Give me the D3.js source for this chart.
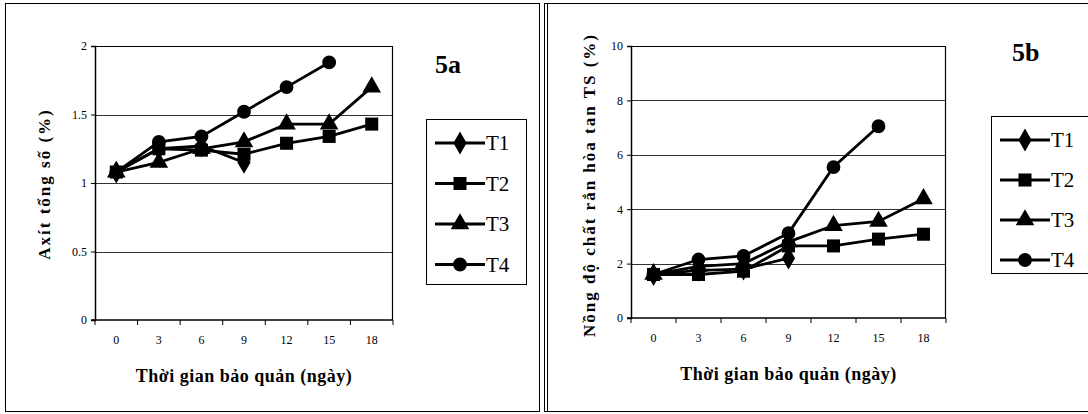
<!DOCTYPE html>
<html>
<head>
<meta charset="utf-8">
<script src="https://cdn.jsdelivr.net/npm/d3@7"></script>
<style>
  body { margin: 0; background: #fff; }
  svg text { font-family: "Liberation Serif", "DejaVu Serif", serif; }
</style>
</head>
<body>
<div id="chart"></div>
<script>
const days = ['0', '3', '6', '9', '12', '15', '18'];
const series = ['T1', 'T2', 'T3', 'T4'];

// 5a - total acid (%)
const acidT1 = [1.08, 1.25, 1.27, 1.15];
const acidT2 = [1.08, 1.25, 1.24, 1.21, 1.29, 1.34, 1.43];
const acidT3 = [1.08, 1.15, 1.25, 1.30, 1.43, 1.43, 1.70];
const acidT4 = [1.08, 1.30, 1.34, 1.52, 1.70, 1.88];
const acidTicks = [0, 0.5, 1, 1.5, 2];

// 5b - total soluble solids (%)
const tssT1 = [1.6, 1.75, 1.8, 2.2];
const tssT2 = [1.6, 1.6, 1.72, 2.65, 2.65, 2.9, 3.08];
const tssT3 = [1.6, 1.9, 2.0, 2.8, 3.4, 3.55, 4.38];
const tssT4 = [1.6, 2.15, 2.28, 3.12, 5.55, 7.05];
const tssTicks = [0, 2, 4, 6, 8, 10];

const FONT = '"Liberation Serif", "DejaVu Serif", serif';

const svg = d3.select('#chart').append('svg')
  .attr('width', 1088)
  .attr('height', 414)
  .attr('font-family', FONT);

// outer frames
svg.append('rect').attr('x', 5.5).attr('y', 3.5).attr('width', 534).attr('height', 408)
  .attr('fill', 'none').attr('stroke', '#000').attr('stroke-width', 1);
svg.append('rect').attr('x', 544.5).attr('y', 3.5).attr('width', 560).attr('height', 408)
  .attr('fill', 'none').attr('stroke', '#000').attr('stroke-width', 1);
svg.append('rect').attr('x', 547.5).attr('y', 3.5).attr('width', 560).attr('height', 408)
  .attr('fill', 'none').attr('stroke', '#000').attr('stroke-width', 1);

const symbols = {
  T1: d3.symbol().type(d3.symbolDiamond).size(150),
  T2: d3.symbol().type(d3.symbolSquare).size(170),
  T3: d3.symbol().type(d3.symbolTriangle).size(150),
  T4: d3.symbol().type(d3.symbolCircle).size(150)
};

function drawPanel(p) {
  const g = svg.append('g');
  const x = d3.scaleBand().domain(days).range([p.left, p.right]);
  const y = d3.scaleLinear().domain([0, p.max]).range([p.bottom, p.top]);

  // gridlines
  g.append('g')
    .selectAll('line')
    .data(p.ticks.filter((d) => d > 0 && d < p.max))
    .join('line')
    .attr('x1', p.left).attr('x2', p.right)
    .attr('y1', (d) => Math.round(y(d)) + 0.5).attr('y2', (d) => Math.round(y(d)) + 0.5)
    .attr('stroke', '#333').attr('stroke-width', 1);

  // plot border (top / right)
  g.append('path')
    .attr('d', `M${p.left},${p.top + 0.5}H${p.right - 0.5}V${p.bottom}`)
    .attr('fill', 'none').attr('stroke', '#000').attr('stroke-width', 1.2);

  // y axis
  const yAxis = g.append('g')
    .attr('transform', `translate(${p.left},0)`)
    .call(d3.axisLeft(y).tickValues(p.ticks).tickSize(4).tickPadding(4).tickFormat((d) => String(d)));
  yAxis.attr('font-family', FONT);
  yAxis.select('.domain').attr('stroke-width', 1.5);
  yAxis.selectAll('text').attr('font-size', 12);

  // x axis: ticks at category boundaries, labels centred
  const xAxisG = g.append('g').attr('transform', `translate(0,${p.bottom})`);
  xAxisG.append('line').attr('x1', p.left - 4).attr('x2', p.right)
    .attr('stroke', '#000').attr('stroke-width', 1.5);
  xAxisG.selectAll('.tick')
    .data(days.concat(['end']))
    .join('line')
    .attr('x1', (d) => d === 'end' ? p.right : x(d))
    .attr('x2', (d) => d === 'end' ? p.right : x(d))
    .attr('y1', 0).attr('y2', 5)
    .attr('stroke', '#000');
  xAxisG.selectAll('text')
    .data(days)
    .join('text')
    .attr('x', (d) => x(d) + x.bandwidth() / 2)
    .attr('y', 24)
    .attr('text-anchor', 'middle')
    .attr('font-size', 12)
    .text((d) => d);

  // axis titles
  g.append('text')
    .attr('x', (p.left + p.right) / 2)
    .attr('y', p.bottom + 62)
    .attr('text-anchor', 'middle')
    .attr('font-size', 18).attr('font-weight', 'bold')
    .attr('letter-spacing', 0.5)
    .text('Thời gian bảo quản (ngày)');
  g.append('text')
    .attr('transform', `translate(${p.yTitleX},${p.yTitleY}) rotate(-90)`)
    .attr('text-anchor', 'middle')
    .attr('font-size', 17).attr('font-weight', 'bold')
    .attr('letter-spacing', 2)
    .text(p.yTitle);

  // panel label
  g.append('text')
    .attr('x', p.tagX).attr('y', p.tagY)
    .attr('font-size', 26).attr('font-weight', 'bold')
    .text(p.tag);

  // series lines + markers
  const line = d3.line()
    .x((d, i) => x(days[i]) + x.bandwidth() / 2)
    .y((d) => y(d));
  series.forEach((s, k) => {
    const vals = p.data[k];
    g.append('path')
      .attr('d', line(vals))
      .attr('fill', 'none').attr('stroke', '#000').attr('stroke-width', 2.8);
    g.selectAll(null)
      .data(vals)
      .join('path')
      .attr('d', symbols[s])
      .attr('transform', (d, i) => `translate(${x(days[i]) + x.bandwidth() / 2},${y(d)})`)
      .attr('fill', '#000');
  });

  // legend
  const lg = g.append('g');
  lg.append('rect')
    .attr('x', p.legX + 0.5).attr('y', p.legY + 0.5)
    .attr('width', p.legW).attr('height', p.legH)
    .attr('fill', '#fff').attr('stroke', '#000').attr('stroke-width', 1);
  series.forEach((s, k) => {
    const cy = p.legY + 24 + k * p.legStep;
    lg.append('line')
      .attr('x1', p.legX + 9).attr('x2', p.legX + 59)
      .attr('y1', cy).attr('y2', cy)
      .attr('stroke', '#000').attr('stroke-width', 2.8);
    lg.append('path')
      .attr('d', symbols[s])
      .attr('transform', `translate(${p.legX + 34},${cy})`)
      .attr('fill', '#000');
    lg.append('text')
      .attr('x', p.legX + 60).attr('y', cy + 7)
      .attr('font-size', 21)
      .text(s);
  });
}

drawPanel({
  left: 95, right: 393, top: 46, bottom: 320, max: 2, ticks: acidTicks,
  data: [acidT1, acidT2, acidT3, acidT4],
  yTitle: 'Axít tổng số (%)', yTitleX: 50, yTitleY: 184,
  tag: '5a', tagX: 435, tagY: 73,
  legX: 426, legY: 119, legW: 100, legH: 165, legStep: 40.5
});

drawPanel({
  left: 631, right: 946, top: 46, bottom: 318, max: 10, ticks: tssTicks,
  data: [tssT1, tssT2, tssT3, tssT4],
  yTitle: 'Nồng độ chất rắn hòa tan TS (%)', yTitleX: 595, yTitleY: 185,
  tag: '5b', tagX: 1012, tagY: 61,
  legX: 991, legY: 116, legW: 110, legH: 157, legStep: 40
});
</script>
</body>
</html>
